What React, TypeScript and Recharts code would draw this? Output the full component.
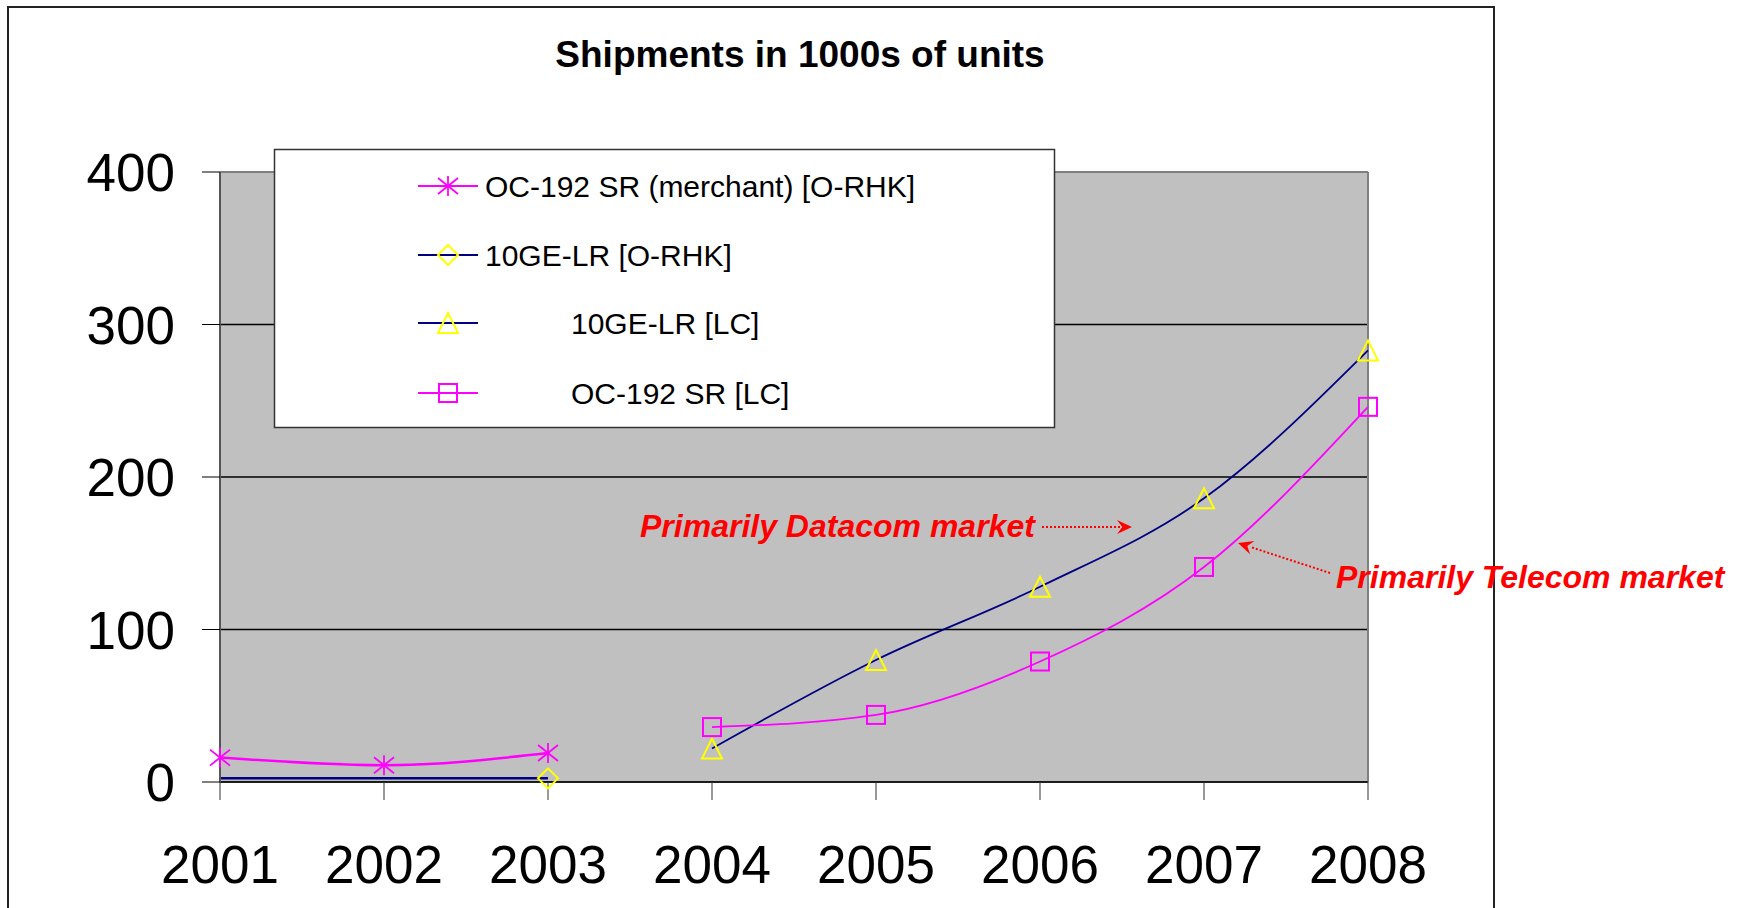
import React from 'react';
import {
	CartesianGrid,
	Line,
	LineChart,
	ReferenceLine,
	XAxis,
	YAxis,
} from 'recharts';

const years = ['2001', '2002', '2003', '2004', '2005', '2006', '2007', '2008'];
const oc192Merchant = [16, 11, 19, null, null, null, null, null];
const ge10Orhk = [2.4, 2.4, 2.4, null, null, null, null, null];
const ge10Lc = [null, null, null, 22, 80, 128, 186, 283];
const oc192Lc = [null, null, null, 36, 44, 79, 141, 246];
const yTicks = [0, 100, 200, 300, 400];

const legendLabels = [
	'OC-192 SR (merchant) [O-RHK]',
	'10GE-LR [O-RHK]',
	'10GE-LR [LC]',
	'OC-192 SR [LC]',
];

const FONT = '"Liberation Sans", Arial, Helvetica, sans-serif';
const MAGENTA = '#FF00FF';
const NAVY = '#000080';
const YELLOW = '#FFFF00';
const RED = '#FF0000';

const data = years.map((year, i) => ({
	year,
	oc192Merchant: oc192Merchant[i],
	ge10Orhk: ge10Orhk[i],
	ge10Lc: ge10Lc[i],
	oc192Lc: oc192Lc[i],
}));

type Shape = 'star' | 'diamond' | 'triangle' | 'square';

const Marker = ({ shape, cx, cy }: { shape: Shape; cx: number; cy: number }) => {
	if (shape === 'star') {
		return (
			<g stroke={MAGENTA} strokeWidth={1.8}>
				<line x1={cx} y1={cy - 10} x2={cx} y2={cy + 10} />
				<line x1={cx - 10} y1={cy - 8} x2={cx + 10} y2={cy + 8} />
				<line x1={cx - 10} y1={cy + 8} x2={cx + 10} y2={cy - 8} />
			</g>
		);
	}
	if (shape === 'diamond') {
		return (
			<polygon
				points={`${cx},${cy - 10} ${cx + 10},${cy} ${cx},${cy + 10} ${cx - 10},${cy}`}
				fill="none"
				stroke={YELLOW}
				strokeWidth={2}
			/>
		);
	}
	if (shape === 'triangle') {
		return (
			<polygon
				points={`${cx},${cy - 10} ${cx + 10},${cy + 10} ${cx - 10},${cy + 10}`}
				fill="none"
				stroke={YELLOW}
				strokeWidth={2}
			/>
		);
	}
	return (
		<rect x={cx - 9} y={cy - 9} width={18} height={18} fill="none" stroke={MAGENTA} strokeWidth={2} />
	);
};

const dotRenderer = (shape: Shape, onlyIndex?: number) => (props: any) => {
	const { cx, cy, index, value } = props;
	if (value == null || cx == null || cy == null || (onlyIndex !== undefined && index !== onlyIndex)) {
		return <g key={`d-${shape}-${index}`} />;
	}
	return (
		<g key={`d-${shape}-${index}`}>
			<Marker shape={shape} cx={cx} cy={cy} />
		</g>
	);
};

const lastIndex = (arr: (number | null)[]) => {
	let k = -1;
	arr.forEach((v, i) => {
		if (v != null) k = i;
	});
	return k;
};

const YTick = (props: any) => {
	const { x, y, payload } = props;
	return (
		<text x={x} y={y} dy="0.36em" textAnchor="end" fontFamily={FONT} fontSize={53} fill="#000">
			{payload.value}
		</text>
	);
};

const XTick = (props: any) => {
	const { x, y, payload } = props;
	return (
		<text x={x} y={y} dy="0.71em" textAnchor="middle" fontFamily={FONT} fontSize={53} fill="#000">
			{payload.value}
		</text>
	);
};

const arrowHead = (x1: number, y1: number, x2: number, y2: number) => {
	const ang = Math.atan2(y2 - y1, x2 - x1);
	const len = 15;
	const half = 7;
	const bx = x2 - len * Math.cos(ang);
	const by = y2 - len * Math.sin(ang);
	const nx = x2 - len * 0.65 * Math.cos(ang);
	const ny = y2 - len * 0.65 * Math.sin(ang);
	const px = -Math.sin(ang) * half;
	const py = Math.cos(ang) * half;
	return `${x2},${y2} ${bx + px},${by + py} ${nx},${ny} ${bx - px},${by - py}`;
};

const legendRows: { shape: Shape; line: string; y: number; textX: number }[] = [
	{ shape: 'star', line: MAGENTA, y: 186, textX: 485 },
	{ shape: 'diamond', line: NAVY, y: 255, textX: 485 },
	{ shape: 'triangle', line: NAVY, y: 323, textX: 571 },
	{ shape: 'square', line: MAGENTA, y: 393, textX: 571 },
];

export default function App() {
	return (
		<div
			style={{
				position: 'absolute',
				left: 0,
				top: 0,
				width: 1761,
				height: 908,
				overflow: 'hidden',
				background: '#fff',
			}}
		>
			<LineChart
				width={1761}
				height={908}
				data={data}
				margin={{ top: 172, right: 393, bottom: 26, left: 0 }}
				style={{ position: 'absolute', left: 0, top: 0 }}
			>
				<CartesianGrid
					vertical={false}
					fill="#C0C0C0"
					fillOpacity={1}
					stroke="#000"
					strokeOpacity={1}
					strokeWidth={1.4}
				/>
				<ReferenceLine y={400} stroke="#808080" strokeWidth={2} />
				<ReferenceLine x="2008" stroke="#808080" strokeWidth={2} />
				<XAxis
					dataKey="year"
					height={100}
					padding={{ left: 0, right: 0 }}
					tickSize={18}
					tickMargin={45}
					tick={<XTick />}
					stroke="#000"
					tickLine={{ stroke: '#333' }}
					interval={0}
				/>
				<YAxis
					width={220}
					domain={[0, 400]}
					ticks={yTicks}
					tickSize={18}
					tickMargin={27}
					tick={<YTick />}
					stroke="#444"
					axisLine={{ stroke: '#555', strokeWidth: 2 }}
					tickLine={{ stroke: '#000' }}
				/>
				<Line
					dataKey="ge10Orhk"
					stroke={NAVY}
					strokeWidth={2.5}
					type="monotone"
					dot={dotRenderer('diamond', lastIndex(ge10Orhk))}
					activeDot={false}
					isAnimationActive={false}
				/>
				<Line
					dataKey="oc192Merchant"
					stroke={MAGENTA}
					strokeWidth={2.5}
					type="monotone"
					dot={dotRenderer('star')}
					activeDot={false}
					isAnimationActive={false}
				/>
				<Line
					dataKey="ge10Lc"
					stroke={NAVY}
					strokeWidth={1.8}
					type="monotone"
					dot={dotRenderer('triangle')}
					activeDot={false}
					isAnimationActive={false}
				/>
				<Line
					dataKey="oc192Lc"
					stroke={MAGENTA}
					strokeWidth={1.8}
					type="monotone"
					dot={dotRenderer('square')}
					activeDot={false}
					isAnimationActive={false}
				/>
			</LineChart>
			<svg
				width={1761}
				height={908}
				style={{ position: 'absolute', left: 0, top: 0, pointerEvents: 'none' }}
			>
				<rect x={8} y={7} width={1486} height={1000} fill="none" stroke="#222" strokeWidth={2} />
				<text x={800} y={67} textAnchor="middle" fontFamily={FONT} fontSize={37} fontWeight="bold" fill="#000">
					Shipments in 1000s of units
				</text>
				<rect x={274.5} y={149.5} width={780} height={278} fill="#fff" stroke="#333" strokeWidth={1.5} />
				{legendRows.map((row, i) => (
					<g key={legendLabels[i]}>
						<line x1={418} y1={row.y} x2={478} y2={row.y} stroke={row.line} strokeWidth={2} />
						<Marker shape={row.shape} cx={448} cy={row.y} />
						<text x={row.textX} y={row.y} dy="0.36em" fontFamily={FONT} fontSize={30} fill="#000">
							{legendLabels[i]}
						</text>
					</g>
				))}
				<text x={640} y={537} fontFamily={FONT} fontSize={32} fontWeight="bold" fontStyle="italic" fill={RED}>
					Primarily Datacom market
				</text>
				<line x1={1042} y1={527} x2={1120} y2={527} stroke={RED} strokeWidth={2} strokeDasharray="2 2" />
				<polygon points={arrowHead(1042, 527, 1132, 527)} fill={RED} />
				<text x={1336} y={588} fontFamily={FONT} fontSize={32} fontWeight="bold" fontStyle="italic" fill={RED}>
					Primarily Telecom market
				</text>
				<line x1={1330} y1={573} x2={1252} y2={547.5} stroke={RED} strokeWidth={2} strokeDasharray="2 2" />
				<polygon points={arrowHead(1330, 573, 1238, 543)} fill={RED} />
			</svg>
		</div>
	);
}
